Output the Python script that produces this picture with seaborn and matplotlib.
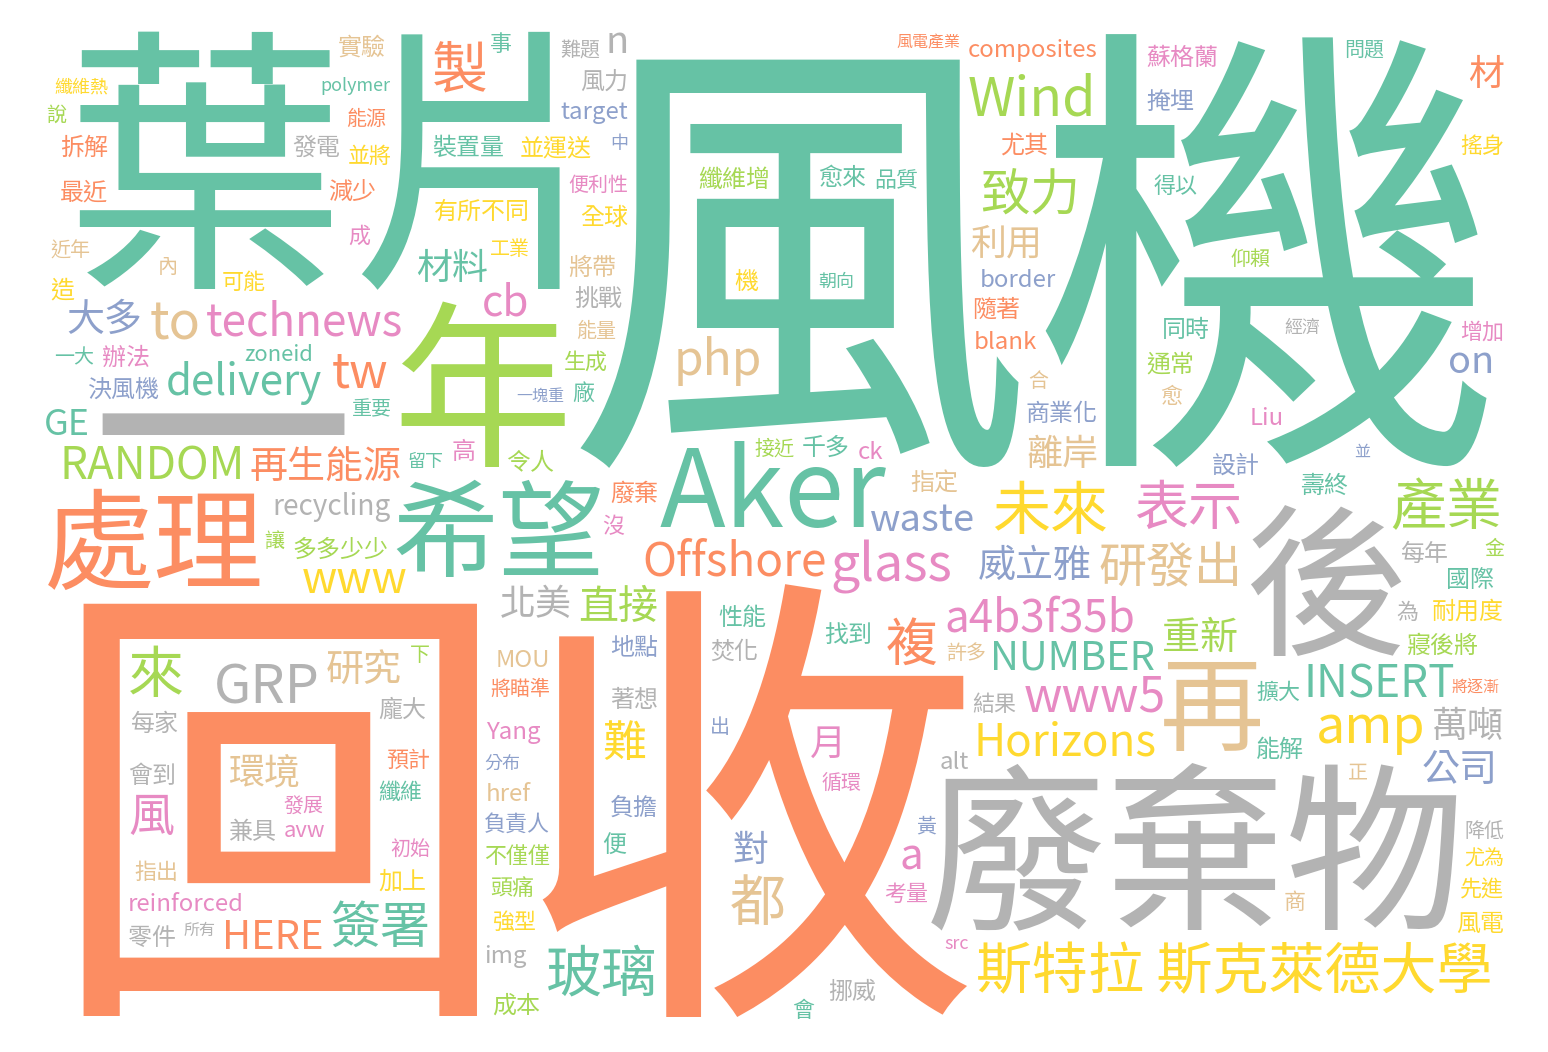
"""Word cloud of wind-turbine blade recycling article (Set2 colours)."""

import matplotlib
matplotlib.use("Agg")  # headless backend
import matplotlib.pyplot as plt
import numpy as np
import seaborn as sns
from matplotlib import font_manager
from PIL import Image, ImageDraw, ImageFont

# ── Data: word, font size (em, px in the 1548px-wide figure), Set2 colour index ──
# colour index: 0 teal, 1 orange, 2 blue, 3 pink, 4 green, 5 yellow, 6 tan, 7 grey
words = [
    "風機", "回收", "葉片", "一", "廢棄物", "年", "後", "處理", "Aker", "希望",
    "再", "斯特拉 斯克萊德大學", "未來", "玻璃", "產業", "來", "都", "製", "表示", "GRP",
    "Wind", "glass", "amp", "to", "複", "簽署", "致力", "tw", "www5", "php",
    "研發出", "風", "Offshore", "www", "Horizons", "technews", "a4b3f35b", "難", "INSERT", "RANDOM",
    "a", "cb", "delivery", "HERE", "NUMBER", "直接", "公司", "大多", "waste", "再生能源",
    "威立雅", "研究", "重新", "n", "on", "環境", "利用", "北美", "萬噸", "材料",
    "離岸", "對", "材", "GE", "月", "recycling", "composites",
    "接近", "國際", "src", "實驗", "設計", "負責人", "焚化", "機", "有所不同", "結果",
    "並將", "擴大", "裝置量", "性能", "能量", "正", "將帶", "壽終", "加上", "仰賴",
    "分布", "avw", "重要", "blank", "寢後將", "內", "將逐漸", "零件", "難題", "愈來",
    "高", "商業化", "能解", "發電", "兼具", "指定", "金", "負擔", "品質", "廢棄",
    "發展", "著想", "工業", "中", "並", "不僅僅", "先進", "zoneid", "下", "生成",
    "預計", "尤為", "能源", "合", "同時", "隨著", "最近", "一塊重", "多多少少", "每家",
    "挪威", "風電", "千多", "出", "拆解", "許多", "並運送", "Liu", "便", "Yang",
    "尤其", "讓", "初始", "經濟", "polymer", "搖身", "龐大", "可能", "target", "風力",
    "頭痛", "地點", "廠", "為", "纖維增", "問題", "指出", "得以", "沒", "商",
    "成", "留下", "增加", "考量", "耐用度", "會到", "強型", "便利性", "黃", "纖維",
    "令人", "造", "ck", "href", "找到", "img", "會", "掩埋", "辦法", "alt",
    "一大", "風電產業", "蘇格蘭", "循環", "全球", "事", "近年", "每年", "reinforced", "愈",
    "通常", "border", "MOU", "減少", "纖維熱", "決風機", "朝向", "將瞄準", "成本", "降低",
    "所有", "挑戰", "說",
]
sizes = [
    470, 470, 280, 265, 180, 180, 165, 110, 109, 106,
    104, 70, 58, 56, 55, 55, 55, 55, 54, 54,
    54, 53, 52, 52, 52, 50, 50, 48, 47, 47,
    47, 46, 46, 45, 45, 45, 45, 45, 44, 43,
    42, 42, 42, 40, 40, 39, 38, 38, 38, 38,
    38, 38, 38, 38, 38, 37, 37, 37, 37, 37,
    37, 37, 37, 36, 35, 32, 24,
    21, 23, 18, 23, 23, 22, 23, 24, 23, 22,
    22, 22, 23, 23, 21, 21, 23, 23, 23, 19,
    19, 22, 20, 23, 24, 21, 20, 24, 20, 24,
    24, 25, 24, 24, 25, 24, 20, 24, 22, 23,
    20, 23, 20, 18, 17, 22, 22, 22, 20, 22,
    22, 20, 20, 20, 24, 25, 23, 21, 25, 24,
    24, 25, 23, 20, 25, 20, 24, 24, 23, 24,
    24, 20, 21, 19, 23, 22, 23, 22, 23, 23,
    22, 23, 22, 22, 24, 21, 22, 22, 22, 22,
    22, 19, 22, 22, 24, 23, 22, 23, 20, 22,
    23, 24, 25, 25, 24, 24, 22, 24, 24, 24,
    20, 20, 25, 20, 24, 22, 20, 24, 24, 22,
    24, 23, 24, 23, 22, 25, 20, 23, 23, 20,
    17, 23, 20,
]
colors = [
    0, 1, 0, 7, 7, 4, 7, 1, 0, 0,
    6, 5, 5, 0, 4, 4, 6, 1, 3, 7,
    4, 3, 5, 6, 1, 0, 4, 1, 3, 6,
    6, 3, 1, 5, 5, 3, 3, 5, 0, 4,
    3, 3, 0, 1, 0, 4, 2, 2, 2, 1,
    2, 6, 4, 7, 2, 6, 6, 7, 7, 0,
    6, 2, 1, 0, 3, 7, 1,
    4, 0, 3, 6, 2, 2, 7, 5, 5, 7,
    5, 0, 0, 0, 6, 6, 6, 0, 5, 4,
    2, 3, 0, 1, 4, 6, 1, 7, 7, 0,
    3, 2, 0, 7, 7, 6, 4, 2, 0, 1,
    3, 7, 5, 2, 2, 4, 5, 0, 4, 4,
    1, 5, 1, 6, 0, 1, 1, 2, 4, 7,
    7, 5, 0, 2, 1, 6, 5, 3, 0, 3,
    1, 4, 3, 7, 0, 5, 7, 5, 2, 7,
    4, 2, 0, 7, 4, 0, 6, 0, 3, 6,
    3, 0, 3, 3, 5, 7, 5, 3, 2, 0,
    4, 5, 3, 6, 0, 7, 0, 2, 3, 7,
    0, 1, 3, 3, 5, 0, 6, 7, 3, 6,
    4, 2, 6, 1, 5, 2, 0, 1, 4, 7,
    7, 7, 4,
]

# ── Style ──────────────────────────────────────────────────────────────────
sns.set_theme(style="white")
plt.rcParams["font.family"] = ["Noto Sans CJK TC", "DejaVu Sans"]
palette = sns.color_palette("Set2", 8)

DPI = 100
FIG_W, FIG_H = 1548, 1052
LEFT, TOP, CW, CH = 38, 25, 1472, 1000   # cloud area in figure pixels
SCALE = 0.5                              # occupancy grid resolution
MARGIN = 2                               # grid px kept free round each word
GW, GH = int(CW * SCALE), int(CH * SCALE)

font_path = font_manager.findfont(font_manager.FontProperties(family="Noto Sans CJK TC"))
face = 0
if font_path.lower().endswith(".ttc"):
    for i in range(10):
        try:
            if ImageFont.truetype(font_path, 10, index=i).getname()[0] == "Noto Sans CJK TC":
                face = i
                break
        except OSError:
            break


# ── Helpers ────────────────────────────────────────────────────────────────

def _halton(i: int, base: int) -> float:
    f, r = 1.0, 0.0
    while i > 0:
        f /= base
        r += f * (i % base)
        i //= base
    return r


def _mask(word: str, px: int):
    """Ink mask of a word, padded by one grid px and grown by one px each way."""
    font = ImageFont.truetype(font_path, px, index=face)
    l, t, r, b = font.getbbox(word, anchor="ls")
    img = Image.new("L", (max(r - l, 1) + 2, max(b - t, 1) + 2), 0)
    ImageDraw.Draw(img).text((1 - l, 1 - t), word, font=font, fill=255, anchor="ls")
    m = np.asarray(img) > 40
    grown = m.copy()
    grown[1:, :] |= m[:-1, :]
    grown[:-1, :] |= m[1:, :]
    grown[:, 1:] |= m[:, :-1]
    grown[:, :-1] |= m[:, 1:]
    return grown, l - 1, t - 1


# ── Layout: greedy fit on the ink of words already placed ──────────────────
occ = np.zeros((GH, GW), dtype=np.int32)
order = np.argsort(-np.asarray(sizes, dtype=float), kind="stable")
layout = []  # (word, px_full, baseline_x, baseline_y, colour)

for idx in order:
    ii = np.zeros((GH + 1, GW + 1), dtype=np.int64)
    ii[1:, 1:] = occ.cumsum(0).cumsum(1)
    size = float(sizes[idx])
    found = None
    while size >= 8:
        px = max(int(round(size * SCALE)), 4)
        mask, l, t = _mask(words[idx], px)
        h, w = mask.shape[0] + 2 * MARGIN, mask.shape[1] + 2 * MARGIN
        if h <= GH and w <= GW:
            box = ii[h:, w:] - ii[:-h, w:] - ii[h:, :-w] + ii[:-h, :-w]
            ys, xs = np.nonzero(box == 0)
            if len(ys):
                found = (px, mask, l, t, h, w, ys, xs)
                break
        size *= 0.9
    if found is None:
        continue
    px, mask, l, t, h, w, ys, xs = found
    k = len(layout)
    if px / SCALE > 0.3 * CH:
        # the two giant words hug opposite corners
        if k % 2 == 0:
            sel = np.flatnonzero(ys == ys.min())
            j = sel[np.argmax(xs[sel])]
        else:
            sel = np.flatnonzero(ys == ys.max())
            j = sel[np.argmin(xs[sel])]
    else:
        tx, ty = _halton(k + 1, 2) * GW, _halton(k + 1, 3) * GH
        d = (xs + w / 2 - tx) ** 2 + (ys + h / 2 - ty) ** 2
        j = int(np.argmin(d))
    y0, x0 = ys[j] + MARGIN, xs[j] + MARGIN
    occ[y0:y0 + mask.shape[0], x0:x0 + mask.shape[1]] |= mask
    layout.append((words[idx], px / SCALE, (x0 - l) / SCALE, (y0 - t) / SCALE, colors[idx]))


# ── Draw ───────────────────────────────────────────────────────────────────
fig = plt.figure(figsize=(FIG_W / DPI, FIG_H / DPI), dpi=DPI, facecolor="white")
ax = fig.add_axes([LEFT / FIG_W, 1 - (TOP + CH) / FIG_H, CW / FIG_W, CH / FIG_H])
ax.set_xlim(0, CW)
ax.set_ylim(CH, 0)
ax.set_axis_off()

for word, px_full, bx, by, c in layout:
    ax.text(bx, by, word, fontsize=px_full * 72 / DPI, color=palette[c],
            ha="left", va="baseline")

fig.savefig("out.png", dpi=DPI, facecolor="white")
plt.close(fig)
